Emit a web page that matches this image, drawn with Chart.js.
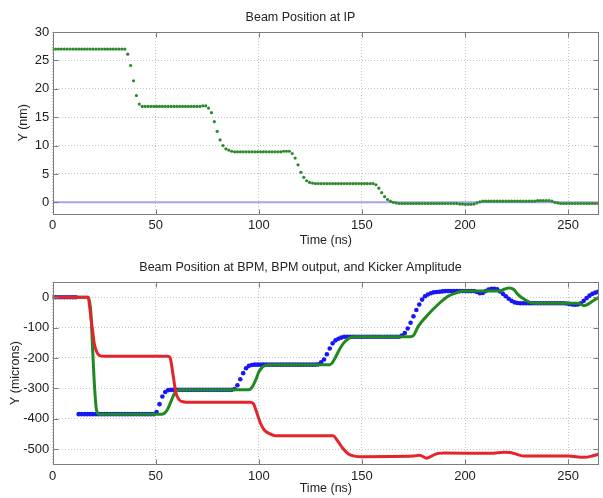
<!DOCTYPE html>
<html>
<head>
<meta charset="utf-8">
<script src="https://cdn.jsdelivr.net/npm/chart.js@4.4.1/dist/chart.umd.min.js"></script>
<style>
  html, body { margin: 0; padding: 0; background: #fff; }
  #wrap { position: relative; width: 603px; height: 498px; }
  canvas { position: absolute; left: 0; }
  #ipChart { top: 0; }
  #bpmChart { top: 250px; }
</style>
</head>
<body>
<div id="wrap">
  <canvas id="ipChart" width="603" height="250"></canvas>
  <canvas id="bpmChart" width="603" height="248"></canvas>
</div>
<script>
// ---- data (time in ns, one sample per bunch) ----
const BUNCH_NS = 1.4;
const timeTicks = [0, 50, 100, 150, 200, 250];
const ipTicks   = [0, 5, 10, 15, 20, 25, 30];
const bpmTicks  = [-500, -400, -300, -200, -100, 0];

// beam position at IP (nm), per bunch
const ipY = [
  27, 27, 27, 27, 27, 27, 27, 27, 27, 27,
  27, 27, 27, 27, 27, 27, 27, 27, 27, 27,
  27, 27, 27, 27, 27, 27, 26.1, 24.1, 21.4, 18.8,
  17.3, 16.9, 16.9, 16.9, 16.9, 16.9, 16.9, 16.9, 16.9, 16.9,
  16.9, 16.9, 16.9, 16.9, 16.9, 16.9, 16.9, 16.9, 16.9, 16.9,
  16.9, 16.9, 17.0, 17.0, 16.6, 15.8, 14.2, 12.5, 11.0, 10.0,
  9.4, 9.2, 9.0, 8.9, 8.9, 8.9, 8.9, 8.9, 8.9, 8.9,
  8.9, 8.9, 8.9, 8.9, 8.9, 8.9, 8.9, 8.9, 8.9, 8.9,
  9.0, 9.0, 9.0, 8.6, 7.8, 6.6, 5.3, 4.4, 3.8, 3.5,
  3.4, 3.3, 3.3, 3.3, 3.3, 3.3, 3.3, 3.3, 3.3, 3.3,
  3.3, 3.3, 3.3, 3.3, 3.3, 3.3, 3.3, 3.3, 3.3, 3.3,
  3.3, 3.3, 3.1, 2.5, 1.7, 1.0, 0.5, 0.2, 0.0, -0.1,
  -0.2, -0.2, -0.2, -0.2, -0.2, -0.2, -0.2, -0.2, -0.2, -0.2,
  -0.2, -0.2, -0.2, -0.2, -0.2, -0.2, -0.2, -0.2, -0.2, -0.2,
  -0.2, -0.3, -0.3, -0.35, -0.35, -0.35, -0.3, -0.1, 0.1, 0.2,
  0.2, 0.2, 0.2, 0.2, 0.2, 0.2, 0.2, 0.2, 0.2, 0.2,
  0.2, 0.2, 0.2, 0.2, 0.2, 0.2, 0.2, 0.2, 0.3, 0.3,
  0.3, 0.3, 0.3, 0.2, 0.0, -0.1, -0.2, -0.2, -0.2, -0.2,
  -0.2, -0.2, -0.2, -0.2, -0.2, -0.2, -0.2, -0.2, -0.2, -0.2
];
const ipRefT = [0, 265];
const ipRefY = [0, 0];

// beam position at BPM (microns), per bunch
const bpmY = [
  0, 0, 0, 0, 0, 0, 0, 0, 0, -385,
  -385, -385, -385, -385, -385, -385, -385, -385, -385, -385,
  -385, -385, -385, -385, -385, -385, -385, -385, -385, -385,
  -385, -385, -385, -385, -385, -385, -378, -352, -327, -312,
  -306, -305, -305, -305, -305, -305, -305, -305, -305, -305,
  -305, -305, -305, -305, -305, -305, -305, -305, -305, -305,
  -305, -305, -305, -302, -290, -270, -250, -234, -226, -223,
  -222, -222, -222, -222, -222, -222, -222, -222, -222, -222,
  -222, -222, -222, -222, -222, -222, -222, -222, -222, -222,
  -222, -222, -221, -214, -205, -188, -169, -152, -142, -137,
  -133, -130, -130, -130, -130, -130, -130, -130, -130, -130,
  -130, -130, -130, -130, -130, -130, -130, -130, -130, -130,
  -130, -126, -118, -103, -84, -63, -42, -24, -8, 3,
  9, 13, 16, 17, 18, 19, 20, 20, 20, 20,
  20, 20, 20, 20, 20, 20, 20, 17, 13, 14,
  20, 25, 28, 28, 26, 19, 11, 3, -5, -12,
  -17, -19, -20, -20, -20, -20, -20, -20, -20, -20,
  -20, -20, -20, -20, -20, -20, -20, -20, -21, -22,
  -24, -25, -24, -20, -12, -3, 5, 11, 15, 18
];

// BPM output (microns)
const outT = [0, 17.3, 18.5, 19.3, 20.1, 21.2, 22.5, 53, 54.5, 55.8, 57.4, 59, 60.6, 62.5,
  95, 96.5, 98.5, 100, 101.6, 103.5, 105, 134.5, 136, 137, 139.5, 141.9, 145, 147,
  173.5, 175, 177.3, 182.1, 186.9, 191.8, 196.6, 200, 217, 219, 221.5, 223.5, 225.5,
  228.7, 232, 235, 255, 257.7, 260, 262.5, 266];
const outY = [0, 0, -50, -162, -272, -370, -385, -385, -380, -368, -343, -318, -307, -305,
  -305, -298, -272, -246, -231, -224, -222, -222, -212, -200, -167, -145, -131, -130,
  -130, -126, -96, -57, -24, 3, 16, 20, 20, 26, 30, 26, 10,
  -7, -18, -20, -20, -28, -22, -10, 4];

// kicker amplitude (microns)
const kickT = [0, 17.2, 17.8, 18.5, 19.3, 20.1, 21.2, 22.8, 25, 56, 57, 58.5, 59.8, 61.4, 63.8, 66,
  96, 97.5, 98.5, 100.8, 102.6, 105.4, 108, 136, 137.9, 140.7, 143.5, 146.3, 150,
  175, 178, 181.5, 184, 187, 190, 212.6, 219, 222, 225.5, 228.7, 250, 257.7, 262, 266];
const kickY = [0, 0, -25, -65, -107, -150, -178, -192, -194, -194, -200, -261, -316, -338, -345, -346,
  -346, -352, -370, -415, -437, -450, -456, -456, -470, -497, -516, -523, -525,
  -523, -520, -530, -522, -514, -513, -514, -510, -511, -518, -523, -523, -527, -522, -514];

// ---- helpers ----
const FONT = '"Liberation Sans", Arial, Helvetica, sans-serif';
const perBunch = arr => arr.map((y, i) => ({ x: i * BUNCH_NS, y }));
const pairs = (ts, ys) => ts.map((x, i) => ({ x, y: ys[i] }));
const crisp = v => Math.round(v) + 0.5;

// matlab-style box with inward ticks
const matlabBox = {
  id: 'matlabBox',
  afterDatasetsDraw(chart) {
    const { ctx, chartArea: a, scales: { x, y } } = chart;
    const l = crisp(a.left), r = crisp(a.right - 1), t = crisp(a.top), b = crisp(a.bottom);
    ctx.save();
    ctx.strokeStyle = '#7c7c7c';
    ctx.lineWidth = 1;
    ctx.strokeRect(l, t, r - l, b - t);
    ctx.beginPath();
    x.ticks.forEach(tk => {
      const px = crisp(x.getPixelForValue(tk.value));
      ctx.moveTo(px, b); ctx.lineTo(px, b - 5);
      ctx.moveTo(px, t); ctx.lineTo(px, t + 5);
    });
    y.ticks.forEach(tk => {
      const py = crisp(y.getPixelForValue(tk.value));
      ctx.moveTo(l, py); ctx.lineTo(l + 5, py);
      ctx.moveTo(r, py); ctx.lineTo(r - 5, py);
    });
    ctx.stroke();
    ctx.restore();
  }
};

function makeOptions(title, yTitle, yMin, yMax, yTicks, xHeight, yTitlePad) {
  return {
    responsive: false,
    animation: false,
    devicePixelRatio: 1,
    layout: { padding: { left: 0, right: 2, top: 0, bottom: 0 } },
    plugins: {
      legend: { display: false },
      tooltip: { enabled: false },
      title: {
        display: true, text: title, color: '#222',
        font: { family: FONT, size: 12.5, weight: 'normal', lineHeight: 1.2 },
        padding: { top: 10.5, bottom: 6.5 }
      }
    },
    scales: {
      x: {
        type: 'linear', min: 0, max: 265,
        afterBuildTicks: s => { s.ticks = timeTicks.map(v => ({ value: v })); },
        afterFit: s => { s.height = xHeight; },
        grid: { color: '#c4c4c4', lineWidth: 1, drawTicks: false },
        border: { display: false, dash: [1, 2] },
        ticks: { color: '#222', padding: 4, font: { family: FONT, size: 13 } },
        title: {
          display: true, text: 'Time (ns)', color: '#222',
          font: { family: FONT, size: 12.5, lineHeight: 1.2 },
          padding: { top: 0, bottom: 1.5 }
        }
      },
      y: {
        type: 'linear', min: yMin, max: yMax,
        afterBuildTicks: s => { s.ticks = yTicks.map(v => ({ value: v })); },
        afterFit: s => { s.width = 52.7; },
        grid: { color: '#c4c4c4', lineWidth: 1, drawTicks: false },
        border: { display: false, dash: [1, 2] },
        ticks: { color: '#222', padding: 3.5, font: { family: FONT, size: 13 } },
        title: {
          display: true, text: yTitle, color: '#222',
          font: { family: FONT, size: 12.5, lineHeight: 1.2 },
          padding: { top: yTitlePad, bottom: 0 }
        }
      }
    }
  };
}

// ---- top: beam position at IP ----
new Chart(document.getElementById('ipChart'), {
  type: 'scatter',
  data: {
    datasets: [
      {
        data: perBunch(ipY), showLine: false,
        pointRadius: 1.6, pointBorderWidth: 0,
        pointBackgroundColor: '#2b8a2b'
      },
      {
        type: 'line', data: pairs(ipRefT, ipRefY),
        borderColor: '#a4a4ee', borderWidth: 2, pointRadius: 0
      }
    ]
  },
  options: makeOptions('Beam Position at IP', 'Y (nm)', -2, 30, ipTicks, 36.3, 16),
  plugins: [matlabBox]
});

// ---- bottom: BPM, BPM output, kicker ----
new Chart(document.getElementById('bpmChart'), {
  type: 'scatter',
  data: {
    datasets: [
      {
        type: 'line', data: pairs(kickT, kickY),
        borderColor: '#e6232b', borderWidth: 3, pointRadius: 0,
        cubicInterpolationMode: 'monotone'
      },
      {
        type: 'line', data: pairs(outT, outY),
        borderColor: '#208a20', borderWidth: 3, pointRadius: 0,
        cubicInterpolationMode: 'monotone'
      },
      {
        data: perBunch(bpmY), showLine: false,
        pointRadius: 2.3, pointBorderWidth: 0,
        pointBackgroundColor: '#1818f2'
      }
    ]
  },
  options: makeOptions('Beam Position at BPM, BPM output, and Kicker Amplitude',
    'Y (microns)', -550, 50, bpmTicks, 33.7, 8.5),
  plugins: [matlabBox]
});
</script>
</body>
</html>
